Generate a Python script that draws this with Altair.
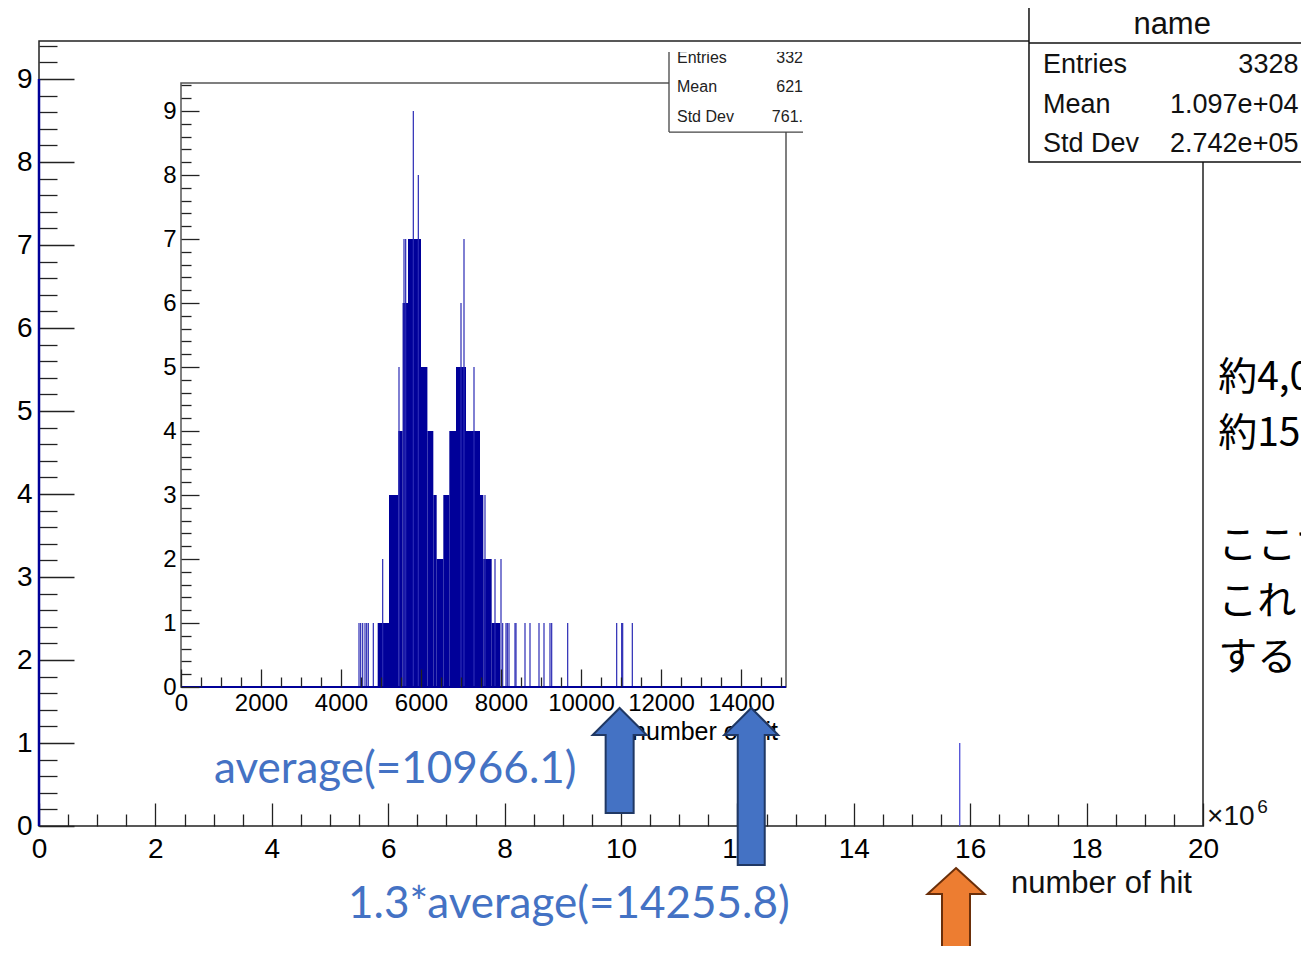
import altair as alt
import pandas as pd

# ---------------- data ----------------
# main histogram (x in units of 10^6 hits)
main_bin_x = [0.0, 15.82]
main_bin_count = [9, 1]
main_bin_color = ["#000099", "#4d4dd6"]
main_bin_width = [2.5, 1.3]

# inset histogram: envelope blocks (start, end, count)
inset_block_start = [4917, 5200, 5433, 5540, 5675, 6000, 6160, 6308, 6392, 6558, 6708, 6875, 7125, 7475, 7558, 7767]
inset_block_end   = [5200, 5433, 5540, 5675, 6000, 6160, 6308, 6392, 6558, 6708, 6875, 7125, 7475, 7558, 7767, 7975]
inset_block_count = [1, 3, 4, 6, 7, 5, 4, 3, 2, 3, 4, 5, 4, 3, 2, 1]

# inset histogram: isolated narrow bins
inset_spike_x = [4450, 4492, 4542, 4600, 4642, 4683, 4808, 5042, 5450, 5575, 5617,
                 5808, 5933, 7000, 7075, 7325, 7600, 7850, 8000,
                 8042, 8125, 8158, 8200, 8350, 8375, 8600, 8725, 8950, 9075,
                 9225, 9267, 9667, 10892, 11017, 11042, 11283]
inset_spike_count = [1, 1, 1, 1, 1, 1, 1, 2, 5, 7, 7,
                     9, 8, 6, 7, 5, 3, 2, 2,
                     1, 1, 1, 1, 1, 1, 1, 1, 1, 1,
                     1, 1, 1, 1, 1, 1, 1]
inset_range = [0, 15125]

# ticks
main_x_major = [0, 2, 4, 6, 8, 10, 12, 14, 16, 18, 20]
main_x_minor = [v / 2 for v in range(0, 41) if v % 4 != 0]
main_y_major = [0, 1, 2, 3, 4, 5, 6, 7, 8, 9]
main_y_minor = [round(v / 5, 1) for v in range(0, 48) if v % 5 != 0]
inset_x_major = [0, 2000, 4000, 6000, 8000, 10000, 12000, 14000]
inset_x_minor = [v for v in range(500, 15001, 500) if v % 2000 != 0]
inset_y_major = [0, 1, 2, 3, 4, 5, 6, 7, 8, 9]
inset_y_minor = [round(v / 5, 1) for v in range(0, 48) if v % 5 != 0]

# stats boxes
stats_title = "name"
stats_labels = ["Entries", "Mean", "Std Dev"]
stats_values = ["3328", "1.097e+04", "2.742e+05"]
inset_stats_values = ["332", "621", "761."]

# annotations
avg_labels = ["average(=10966.1)", "1.3*average(=14255.8)"]
avg_values = [10966.1, 14255.8]
jp_lines = ["約4,0", "約15", "ここで", "これ", "する"]
x_title = "number of hit"

# ---------------- scales ----------------
W, H = 1164, 785
MX = alt.Scale(domain=[0, 20], nice=False, zero=False)
MY = alt.Scale(domain=[0, 9.458], nice=False, zero=False)
IX = alt.Scale(domain=inset_range, range=[142, 747], nice=False, zero=False)
IY = alt.Scale(domain=[0, 9.4375], range=[646, 42], nice=False, zero=False)

FONT = "Liberation Sans"
TICKC = "#222222"


def qx(f, s, axis=None):
    return alt.X(f, type="quantitative", scale=s, axis=axis)


def qy(f, s, axis=None):
    return alt.Y(f, type="quantitative", scale=s, axis=axis)


def tick_axis(orient, offset, values, size, z=0):
    return alt.Axis(orient=orient, offset=offset, values=values, labels=False, domain=False,
                    grid=False, title=None, tickSize=size, tickColor=TICKC, tickWidth=1.3,
                    zindex=z)


def label_axis(orient, offset, values, size, pad, fmt="d"):
    return alt.Axis(orient=orient, offset=offset, values=values, ticks=False, tickSize=0,
                    domain=False, grid=False, title=None, labelFont=FONT, labelFontSize=size,
                    labelColor="black", labelPadding=pad, labelFlush=False, labelOverlap=False,
                    format=fmt)


layers = []

# ---- main histogram with label axes
main_df = pd.DataFrame({"x": main_bin_x, "c": main_bin_count, "z": [0] * 2,
                        "col": main_bin_color, "w": main_bin_width})
layers.append(alt.Chart(main_df).mark_rule().encode(
    x=qx("x", MX, label_axis("bottom", 0, main_x_major, 28, 9)),
    y=qy("z", MY, label_axis("left", 0, main_y_major, 28, 7)),
    y2="c",
    color=alt.Color("col:N", scale=None),
    strokeWidth=alt.StrokeWidth("w:Q", scale=None),
))

# ---- main inward ticks
tdf = pd.DataFrame({"x": [0.0], "y": [0.0]})
layers.append(alt.Chart(tdf).mark_point(opacity=0).encode(
    x=qx("x", MX, tick_axis("top", -H, main_x_major, 23)),
    y=qy("y", MY, tick_axis("right", -W, main_y_major, 35)),
))
layers.append(alt.Chart(tdf).mark_point(opacity=0).encode(
    x=qx("x", MX, tick_axis("top", -H, main_x_minor, 12)),
    y=qy("y", MY, tick_axis("right", -W, main_y_minor, 18)),
))

# ---- inset frame with label axes
frame_df = pd.DataFrame({"x0": [inset_range[0]], "x1": [inset_range[1]], "y0": [0], "y1": [9.4375]})
layers.append(alt.Chart(frame_df).mark_rect(fillOpacity=0, stroke="#555555", strokeWidth=1.5).encode(
    x=qx("x0", IX, label_axis("bottom", -(H - 646), inset_x_major, 24, 4)),
    x2="x1",
    y=qy("y0", IY, label_axis("left", -142, inset_y_major, 24, 5)),
    y2="y1",
))

# ---- inset histogram
blk_df = pd.DataFrame({"s": inset_block_start, "e": inset_block_end, "c": inset_block_count,
                       "z": [0] * len(inset_block_count)})
layers.append(alt.Chart(blk_df).mark_rect(color="#000099").encode(
    x=qx("s", IX), x2="e", y=qy("z", IY), y2="c"))
spk_df = pd.DataFrame({"x": inset_spike_x, "c": inset_spike_count, "z": [0] * len(inset_spike_x)})
layers.append(alt.Chart(spk_df).mark_rule(color="#2a2ab4", strokeWidth=1.2).encode(
    x=qx("x", IX), y=qy("z", IY), y2="c"))
base_df = pd.DataFrame({"x0": [inset_range[0]], "x1": [inset_range[1]], "y": [0]})
layers.append(alt.Chart(base_df).mark_rule(color="#000099", strokeWidth=2).encode(
    x=qx("x0", IX), x2="x1", y=qy("y", IY)))

# ---- inset inward ticks (above histogram)
layers.append(alt.Chart(tdf).mark_point(opacity=0).encode(
    x=qx("x", IX, tick_axis("top", -646, inset_x_major, 18, 1)),
    y=qy("y", IY, tick_axis("right", -(W - 142), inset_y_major, 18, 1)),
))
layers.append(alt.Chart(tdf).mark_point(opacity=0).encode(
    x=qx("x", IX, tick_axis("top", -646, inset_x_minor, 10, 1)),
    y=qy("y", IY, tick_axis("right", -(W - 142), inset_y_minor, 10, 1)),
))

# ---- inset stats box (cropped)
ibox = pd.DataFrame({"x0": [12200], "x1": [15550], "y0": [8.67], "y1": [9.92]})
layers.append(alt.Chart(ibox).mark_rect(color="white").encode(
    x=qx("x0", IX), x2="x1", y=qy("y0", IY), y2="y1"))
layers.append(alt.Chart(ibox).mark_rule(color="#444444", strokeWidth=1.3).encode(
    x=qx("x0", IX), y=qy("y0", IY), y2="y1"))
layers.append(alt.Chart(ibox).mark_rule(color="#444444", strokeWidth=1.3).encode(
    x=qx("x0", IX), x2="x1", y=qy("y0", IY)))
ist_y = [9.83, 9.375, 8.906]
ilab = pd.DataFrame({"x": [12400] * 3, "y": ist_y, "t": stats_labels})
ival = pd.DataFrame({"x": [15550] * 3, "y": ist_y, "t": inset_stats_values})
layers.append(alt.Chart(ilab).mark_text(align="left", baseline="middle", font=FONT, fontSize=16,
                                        color="#222222").encode(
    x=qx("x", IX), y=qy("y", IY), text="t:N"))
layers.append(alt.Chart(ival).mark_text(align="right", baseline="middle", font=FONT, fontSize=16,
                                        color="#222222").encode(
    x=qx("x", IX), y=qy("y", IY), text="t:N"))
imask = pd.DataFrame({"x0": [12180], "x1": [15560], "y0": [9.92], "y1": [10.06]})
layers.append(alt.Chart(imask).mark_rect(color="white").encode(
    x=qx("x0", IX), x2="x1", y=qy("y0", IY), y2="y1"))

# ---- inset x title
ititle = pd.DataFrame({"x": [14925], "y": [-0.828], "t": [x_title]})
layers.append(alt.Chart(ititle).mark_text(align="right", baseline="alphabetic", font=FONT,
                                          fontSize=25, color="black").encode(
    x=qx("x", IX), y=qy("y", IY), text="t:N"))

# ---- main stats box
mbox = pd.DataFrame({"x0": [17.01], "x1": [22.4], "y0": [8.0], "y1": [9.87]})
layers.append(alt.Chart(mbox).mark_rect(fill="white", stroke="#111111", strokeWidth=1.5).encode(
    x=qx("x0", MX), x2="x1", y=qy("y0", MY), y2="y1"))
msep = pd.DataFrame({"x0": [17.01], "x1": [22.4], "y": [9.434]})
layers.append(alt.Chart(msep).mark_rule(color="#111111", strokeWidth=1.5).encode(
    x=qx("x0", MX), x2="x1", y=qy("y", MY)))
mtitle = pd.DataFrame({"x": [19.47], "y": [9.65], "t": [stats_title]})
layers.append(alt.Chart(mtitle).mark_text(align="center", baseline="middle", font=FONT,
                                          fontSize=31, color="#111111").encode(
    x=qx("x", MX), y=qy("y", MY), text="t:N"))
mst_y = [9.169, 8.687, 8.217]
mlab = pd.DataFrame({"x": [17.25] * 3, "y": mst_y, "t": stats_labels})
mval = pd.DataFrame({"x": [21.64] * 3, "y": mst_y, "t": stats_values})
layers.append(alt.Chart(mlab).mark_text(align="left", baseline="middle", font=FONT, fontSize=27,
                                        color="#111111").encode(
    x=qx("x", MX), y=qy("y", MY), text="t:N"))
layers.append(alt.Chart(mval).mark_text(align="right", baseline="middle", font=FONT, fontSize=27,
                                        color="#111111").encode(
    x=qx("x", MX), y=qy("y", MY), text="t:N"))

# ---- main x title and exponent
mxt = pd.DataFrame({"x": [19.81], "y": [-0.803], "t": [x_title]})
layers.append(alt.Chart(mxt).mark_text(align="right", baseline="alphabetic", font=FONT,
                                       fontSize=31, color="#111111").encode(
    x=qx("x", MX), y=qy("y", MY), text="t:N"))
expo = pd.DataFrame({"x": [20.07], "y": [0.012], "t": ["×10"]})
layers.append(alt.Chart(expo).mark_text(align="left", baseline="alphabetic", font=FONT,
                                        fontSize=28, color="#111111").encode(
    x=qx("x", MX), y=qy("y", MY), text="t:N"))
expo2 = pd.DataFrame({"x": [20.93], "y": [0.157], "t": ["6"]})
layers.append(alt.Chart(expo2).mark_text(align="left", baseline="alphabetic", font=FONT,
                                         fontSize=19, color="#111111").encode(
    x=qx("x", MX), y=qy("y", MY), text="t:N"))

# ---- Japanese notes (cropped at the right edge, as in the reference)
jp = pd.DataFrame({"x": [20.26] * 5, "y": [5.398, 4.723, 3.373, 2.699, 2.024], "t": jp_lines})
layers.append(alt.Chart(jp).mark_text(align="left", baseline="middle", font="Noto Sans CJK JP",
                                      fontSize=39, color="#000000").encode(
    x=qx("x", MX), y=qy("y", MY), text="t:N"))

# ---- blue annotations
blue = pd.DataFrame({"x": [3.007, 5.309], "y": [0.518, -1.108], "t": avg_labels})
layers.append(alt.Chart(blue).mark_text(align="left", baseline="alphabetic", font="Lato",
                                        fontSize=44, color="#4472C4").encode(
    x=qx("x", MX), y=qy("y", MY), text="t:N"))

# ---- arrows
A1 = "M0,0 L0.54,0.54 L0.28,0.54 L0.28,2.1 L-0.28,2.1 L-0.28,0.54 L-0.54,0.54 Z"
A2 = "M0,0 L0.54,0.54 L0.27,0.54 L0.27,3.14 L-0.27,3.14 L-0.27,0.54 L-0.54,0.54 Z"
A3 = "M0,0 L0.57,0.52 L0.28,0.52 L0.28,2.2 L-0.28,2.2 L-0.28,0.52 L-0.57,0.52 Z"
for val, path in zip(avg_values, [A1, A2]):
    adf = pd.DataFrame({"x": [val], "y": [-0.328]})
    layers.append(alt.Chart(adf).mark_point(shape=path, size=10000, filled=True, fill="#4472C4",
                                            stroke="#203864", strokeWidth=2, opacity=1,
                                            fillOpacity=1, strokeOpacity=1).encode(
        x=qx("x", IX), y=qy("y", IY)))
odf = pd.DataFrame({"x": [15.756], "y": [-0.506]})
layers.append(alt.Chart(odf).mark_point(shape=A3, size=10000, filled=True, fill="#ED7D31",
                                        stroke="#6b2f0a", strokeWidth=2, opacity=1,
                                        fillOpacity=1, strokeOpacity=1).encode(
    x=qx("x", MX), y=qy("y", MY)))

chart = alt.layer(*layers).resolve_scale(x="independent", y="independent").properties(
    width=W, height=H,
    autosize=alt.AutoSizeParams(type="none"),
    padding={"left": 31, "top": 33, "right": 98, "bottom": 120},
    background="white",
).configure_view(stroke="#222222", strokeWidth=1.5)

chart.save("out.html", embed_options={"renderer": "svg", "actions": False})
